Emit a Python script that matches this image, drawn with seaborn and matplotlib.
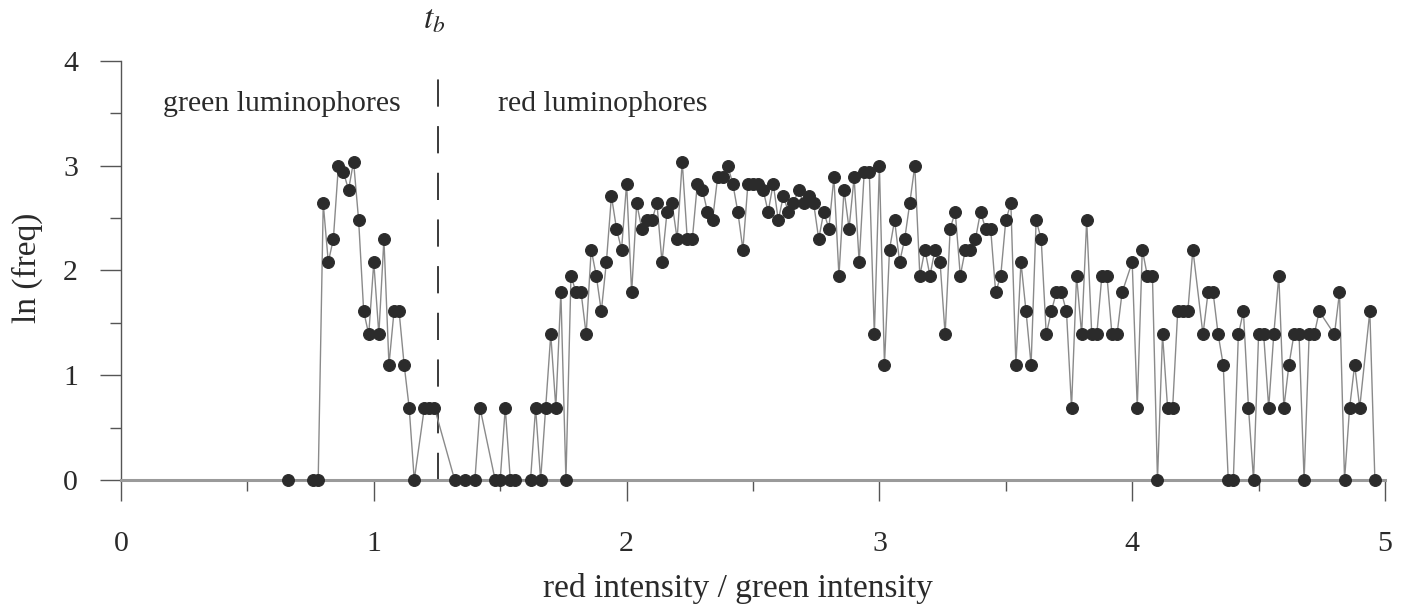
import numpy as np
import pandas as pd
import matplotlib
matplotlib.use("Agg")
import matplotlib.pyplot as plt
from matplotlib.ticker import MultipleLocator
import seaborn as sns

# ratio bins (red intensity / green intensity)
ratio = [0.66, 0.76, 0.78, 0.80, 0.82, 0.84, 0.86, 0.88, 0.90, 0.92, 0.94, 0.96, 0.98,
         1.00, 1.02, 1.04, 1.06, 1.08, 1.10, 1.12, 1.14, 1.16, 1.20, 1.22, 1.24,
         1.32, 1.36, 1.40, 1.42, 1.48, 1.50, 1.52, 1.54, 1.56, 1.62, 1.64, 1.66,
         1.68, 1.70, 1.72, 1.74, 1.76, 1.78, 1.80, 1.82, 1.84, 1.86, 1.88, 1.90,
         1.92, 1.94, 1.96, 1.98, 2.00, 2.02, 2.04, 2.06, 2.08, 2.10, 2.12, 2.14,
         2.16, 2.18, 2.20, 2.22, 2.24, 2.26, 2.28, 2.30, 2.32, 2.34, 2.36, 2.38,
         2.40, 2.42, 2.44, 2.46, 2.48, 2.50, 2.52, 2.54, 2.56, 2.58, 2.60, 2.62,
         2.64, 2.66, 2.68, 2.70, 2.72, 2.74, 2.76, 2.78, 2.80, 2.82, 2.84, 2.86,
         2.88, 2.90, 2.92, 2.94, 2.96, 2.98, 3.00, 3.02, 3.04, 3.06, 3.08, 3.10,
         3.12, 3.14, 3.16, 3.18, 3.20, 3.22, 3.24, 3.26, 3.28, 3.30, 3.32, 3.34,
         3.36, 3.38, 3.40, 3.42, 3.44, 3.46, 3.48, 3.50, 3.52, 3.54, 3.56, 3.58,
         3.60, 3.62, 3.64, 3.66, 3.68, 3.70, 3.72, 3.74, 3.76, 3.78, 3.80, 3.82,
         3.84, 3.86, 3.88, 3.90, 3.92, 3.94, 3.96, 4.00, 4.02, 4.04, 4.06, 4.08,
         4.10, 4.12, 4.14, 4.16, 4.18, 4.20, 4.22, 4.24, 4.28, 4.30, 4.32, 4.34,
         4.36, 4.38, 4.40, 4.42, 4.44, 4.46, 4.48, 4.50, 4.52, 4.54, 4.56, 4.58,
         4.60, 4.62, 4.64, 4.66, 4.68, 4.70, 4.72, 4.74, 4.80, 4.82, 4.84, 4.86,
         4.88, 4.90, 4.94, 4.96]

# ln(frequency) per bin
ln_freq = [0, 0, 0, 2.64, 2.08, 2.30, 3.00, 2.94, 2.77, 3.04, 2.48, 1.61, 1.39,
           2.08, 1.39, 2.30, 1.10, 1.61, 1.61, 1.10, 0.69, 0, 0.69, 0.69, 0.69,
           0, 0, 0, 0.69, 0, 0, 0.69, 0, 0, 0, 0.69, 0,
           0.69, 1.39, 0.69, 1.79, 0, 1.95, 1.79, 1.79, 1.39, 2.20, 1.95, 1.61,
           2.08, 2.71, 2.40, 2.20, 2.83, 1.79, 2.64, 2.40, 2.48, 2.48, 2.64, 2.08,
           2.56, 2.64, 2.30, 3.04, 2.30, 2.30, 2.83, 2.77, 2.56, 2.48, 2.89, 2.89,
           3.00, 2.83, 2.56, 2.20, 2.83, 2.83, 2.83, 2.77, 2.56, 2.83, 2.48, 2.71,
           2.56, 2.64, 2.77, 2.64, 2.71, 2.64, 2.30, 2.56, 2.40, 2.89, 1.95, 2.77,
           2.40, 2.89, 2.08, 2.94, 2.94, 1.39, 3.00, 1.10, 2.20, 2.48, 2.08, 2.30,
           2.64, 3.00, 1.95, 2.20, 1.95, 2.20, 2.08, 1.39, 2.40, 2.56, 1.95, 2.20,
           2.20, 2.30, 2.56, 2.40, 2.40, 1.79, 1.95, 2.48, 2.64, 1.10, 2.08, 1.61,
           1.10, 2.48, 2.30, 1.39, 1.61, 1.79, 1.79, 1.61, 0.69, 1.95, 1.39, 2.48,
           1.39, 1.39, 1.95, 1.95, 1.39, 1.39, 1.79, 2.08, 0.69, 2.20, 1.95, 1.95,
           0, 1.39, 0.69, 0.69, 1.61, 1.61, 1.61, 2.20, 1.39, 1.79, 1.79, 1.39,
           1.10, 0, 0, 1.39, 1.61, 0.69, 0, 1.39, 1.39, 0.69, 1.39, 1.95,
           0.69, 1.10, 1.39, 1.39, 0, 1.39, 1.39, 1.61, 1.39, 1.79, 0, 0.69,
           1.10, 0.69, 1.61, 0]

threshold_tb = 1.255
x_ticks = [0, 1, 2, 3, 4, 5]
y_ticks = [0, 1, 2, 3, 4]
label_green = "green luminophores"
label_red = "red luminophores"

df = pd.DataFrame({"ratio": ratio, "ln_freq": ln_freq})

sns.set_theme(style="ticks")
plt.rcParams["font.family"] = ["Liberation Serif", "DejaVu Serif"]
plt.rcParams["mathtext.fontset"] = "stix"

fig = plt.figure(figsize=(14.01, 6.04), dpi=100)
ax = fig.add_axes([121 / 1401, 1 - 480 / 604, 1264 / 1401, 419 / 604])

sns.lineplot(data=df, x="ratio", y="ln_freq", ax=ax, sort=False, estimator=None,
             color="#8a8a8a", linewidth=1.0, marker="o", markersize=8.5,
             markerfacecolor="#2b2b2b", markeredgecolor="#2b2b2b",
             markeredgewidth=0.8, clip_on=False, zorder=3)

ax.axvline(threshold_tb, ymin=0, ymax=1, color="#3a3a3a", linewidth=1.4,
           dashes=(14, 10), zorder=2)

ax.set_xlim(0, 5)
ax.set_ylim(0, 4)
ax.set_xticks(x_ticks)
ax.set_yticks(y_ticks)
ax.xaxis.set_minor_locator(MultipleLocator(0.5))
ax.yaxis.set_minor_locator(MultipleLocator(0.5))

ax.tick_params(axis="both", which="major", length=15, width=1.0, color="#555555",
               labelsize=21.5, labelcolor="#2a2a2a", direction="out")
ax.tick_params(axis="both", which="minor", length=8, width=1.0, color="#555555",
               direction="out")
ax.tick_params(axis="x", which="major", pad=22)
ax.tick_params(axis="y", which="major", pad=16)

for s in ["top", "right"]:
    ax.spines[s].set_visible(False)
ax.spines["left"].set_color("#555555")
ax.spines["left"].set_linewidth(1.0)
ax.spines["bottom"].set_color("#9a9a9a")
ax.spines["bottom"].set_linewidth(2.2)

ax.set_xlabel("red intensity / green intensity", fontsize=24, color="#2a2a2a")
ax.set_ylabel("ln (freq)", fontsize=24, color="#2a2a2a")
ax.xaxis.set_label_coords(0.488, -0.222)
ax.yaxis.set_label_coords(-0.062, 0.506)

ax.text(0.166, 3.59, label_green, fontsize=21.5, color="#2a2a2a", va="center", ha="left")
ax.text(1.49, 3.59, label_red, fontsize=21.5, color="#2a2a2a", va="center", ha="left")
ax.text(1.24, 4.39, r"$t_b$", fontsize=24, color="#2a2a2a", va="center", ha="center",
        clip_on=False)

fig.savefig("out.png", dpi=100, facecolor="white")
